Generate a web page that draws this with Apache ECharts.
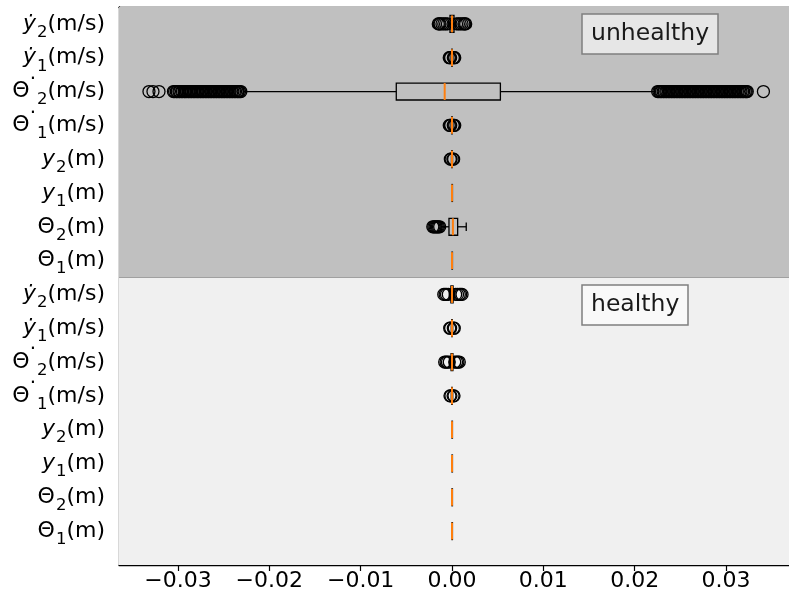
<!DOCTYPE html>
<html>
<head>
<meta charset="utf-8">
<script src="https://cdn.jsdelivr.net/npm/echarts@6/dist/echarts.min.js"></script>
<style>html,body{margin:0;padding:0;background:#fff}#c{width:789px;height:600px}</style>
</head>
<body>
<div id="c"></div>
<script>
// ---- data (rows listed bottom -> top within each group) ----
const groups = ['healthy', 'unhealthy'];
const rowSymbols = ['Θ', 'Θ', 'y', 'y', 'Θ', 'Θ', '\u1E8F', '\u1E8F'];
const rowDotted = [false, false, false, false, true, true, false, false];
const rowSubs = ['1', '2', '1', '2', '1', '2', '1', '2'];
const rowUnits = ['(m)', '(m)', '(m)', '(m)', '(m/s)', '(m/s)', '(m/s)', '(m/s)'];
const xTicks = [-0.03, -0.02, -0.01, 0.00, 0.01, 0.02, 0.03];

// [low whisker, Q1, median, Q3, high whisker]
const healthyBoxes = [
  [-0.00001, -0.000005, 0, 0.000005, 0.00001],
  [-0.00001, -0.000005, 0, 0.000005, 0.00001],
  [-0.00001, -0.000005, 0, 0.000005, 0.00001],
  [-0.00001, -0.000005, 0, 0.000005, 0.00001],
  [-0.00008, -0.00003, 0, 0.00003, 0.00008],
  [-0.00025, -0.0001, 0, 0.0001, 0.00025],
  [-0.00008, -0.00003, 0, 0.00003, 0.00008],
  [-0.0003, -0.00012, 0, 0.00012, 0.0003]
];
const unhealthyBoxes = [
  [-0.00001, -0.000005, 0, 0.000005, 0.00001],
  [-0.0012, -0.00033, 0.0001, 0.00062, 0.00156],
  [-0.00001, -0.000005, 0, 0.000005, 0.00001],
  [-0.00006, -0.00003, 0, 0.00003, 0.00006],
  [-0.0001, -0.00004, 0, 0.00004, 0.0001],
  [-0.0228, -0.0061, -0.0008, 0.0053, 0.0222],
  [-0.0001, -0.00004, 0, 0.00004, 0.0001],
  [-0.0004, -0.00022, 0, 0.00022, 0.0004]
];

const healthyOutliers = [
  [], [], [], [],
  [-0.00022, -0.00012, 0.00012, 0.00022],
  [-0.0008, -0.00065, -0.0005, -0.0003, 0.0003, 0.0005, 0.00065, 0.0008],
  [-0.00025, -0.00015, 0.00015, 0.00025],
  [-0.0009, -0.00075, -0.0006, -0.0004, 0.0004, 0.0006, 0.0008, 0.00095, 0.0011]
];
const unhealthyOutliers = [
  [],
  [-0.0021, -0.00198, -0.00185, -0.00172, -0.0016, -0.00148, -0.00135],
  [],
  [-0.00018, -0.0001, 0.0001, 0.00018],
  [-0.0003, -0.0002, -0.00014, 0.00014, 0.0002, 0.0003],
  [-0.03318, -0.03274, -0.03208,
   -0.03050, -0.03037, -0.03019, -0.03008, -0.02990, -0.02979, -0.02961, -0.02950, -0.02932, -0.02921,
   -0.02906, -0.02889, -0.02877, -0.02860, -0.02848, -0.02831, -0.02819, -0.02803, -0.02788, -0.02776,
   -0.02759, -0.02747, -0.02730, -0.02718, -0.02701, -0.02689, -0.02672, -0.02660, -0.02643, -0.02631,
   -0.02614, -0.02602, -0.02585, -0.02573, -0.02556, -0.02544, -0.02527, -0.02515, -0.02498, -0.02486,
   -0.02469, -0.02457, -0.02440, -0.02428, -0.02411, -0.02399, -0.02382, -0.02370, -0.02353, -0.02341,
   -0.02326, -0.02312,
   0.02252, 0.02266, 0.02283, 0.02295, 0.02312, 0.02324, 0.02341, 0.02353, 0.02370, 0.02382, 0.02399,
   0.02411, 0.02428, 0.02440, 0.02457, 0.02469, 0.02486, 0.02498, 0.02515, 0.02527, 0.02544, 0.02556,
   0.02573, 0.02585, 0.02602, 0.02614, 0.02631, 0.02643, 0.02660, 0.02672, 0.02689, 0.02701, 0.02718,
   0.02730, 0.02747, 0.02759, 0.02776, 0.02788, 0.02805, 0.02817, 0.02834, 0.02846, 0.02863, 0.02875,
   0.02892, 0.02904, 0.02921, 0.02933, 0.02950, 0.02962, 0.02979, 0.02991, 0.03008, 0.03020, 0.03037,
   0.03049, 0.03066, 0.03078, 0.03095, 0.03107, 0.03124, 0.03136, 0.03153, 0.03165, 0.03182, 0.03194,
   0.03211, 0.03222, 0.03233, 0.03410],
  [-0.0003, -0.00022, -0.00015, 0.00015, 0.00022, 0.0003],
  [-0.0015, -0.0014, -0.0013, -0.0011, -0.0009, -0.0007, -0.0005,
   0.0005, 0.0007, 0.0009, 0.0011, 0.0013, 0.0014, 0.0015]
];

// ---- build ----
const categories = [];
groups.forEach(g => rowSymbols.forEach((s, i) => categories.push(g + '|' + i)));
const boxData = healthyBoxes.concat(unhealthyBoxes).map((b, idx) => b.concat([idx]));
const outlierData = [];
healthyOutliers.concat(unhealthyOutliers).forEach((arr, idx) => arr.forEach(v => outlierData.push([v, idx])));
const medianData = boxData.map(b => [b[2], b[5]]);

const FONT = 'DejaVu Sans';
const XMIN = -0.03646, XMAX = 0.0369;

function yLabel(value, index) {
  const r = index % 8;
  const symStyle = (r === 2 || r === 3 || r === 6 || r === 7) ? 'yi' : 'th';
  return '{' + symStyle + '|' + rowSymbols[r] + '}' + (rowDotted[r] ? '{dt|\u00B7}' : '') +
    '{sub|' + rowSubs[r] + '}{u|' + rowUnits[r] + '}';
}

const chart = echarts.init(document.getElementById('c'), null, {renderer: 'canvas'});
chart.setOption({
  animation: false,
  backgroundColor: '#ffffff',
  title: [
    {text: 'unhealthy', left: 582, top: 14, padding: [5, 9], backgroundColor: '#e6e6e6',
     borderColor: '#7f7f7f', borderWidth: 1.5,
     textStyle: {fontFamily: FONT, fontSize: 23.5, fontWeight: 'normal', color: '#1a1a1a', lineHeight: 30}},
    {text: 'healthy', left: 582, top: 285, padding: [5, 9], backgroundColor: '#f9f9f9',
     borderColor: '#7f7f7f', borderWidth: 1.5,
     textStyle: {fontFamily: FONT, fontSize: 23.5, fontWeight: 'normal', color: '#1a1a1a', lineHeight: 30}}
  ],
  grid: [
    {left: 119, right: 0, top: 7, bottom: 35, containLabel: false},
    {left: 119, right: 0, top: 7, bottom: 52, containLabel: false}
  ],
  xAxis: [
    {gridIndex: 0, type: 'value', min: XMIN, max: XMAX, position: 'bottom',
     axisLine: {show: true, onZero: false, lineStyle: {color: '#000', width: 1.3}},
     axisTick: {show: true, length: 6, lineStyle: {color: '#000', width: 1.2}, customValues: xTicks},
     axisLabel: {show: true, customValues: xTicks, margin: 5, fontFamily: FONT, fontSize: 22, color: '#000',
       formatter: v => (v < -1e-9 ? '\u2212' : '') + Math.abs(v).toFixed(2)},
     splitLine: {show: false}},
    {gridIndex: 0, type: 'value', min: XMIN, max: XMAX, position: 'top',
     axisLine: {show: true, onZero: false, lineStyle: {color: '#000', width: 1.3}},
     axisTick: {show: false}, axisLabel: {show: false}, splitLine: {show: false}},
    {gridIndex: 1, type: 'value', min: XMIN, max: XMAX, show: false, splitLine: {show: false}}
  ],
  yAxis: [
    {gridIndex: 0, type: 'value', min: 0, max: 16.5,
     axisLine: {show: true, onZero: false, lineStyle: {color: '#000', width: 1.3}},
     axisTick: {show: false}, axisLabel: {show: false}, splitLine: {show: false}},
    {gridIndex: 1, type: 'category', data: categories,
     axisLine: {show: false},
     axisTick: {show: true, alignWithLabel: true, interval: 0, length: 6, lineStyle: {color: '#000', width: 1.2}},
     axisLabel: {show: true, interval: 0, hideOverlap: false, margin: 14, formatter: yLabel,
       rich: {
         th: {fontFamily: FONT, fontSize: 22, color: '#000', lineHeight: 44},
         yi: {fontFamily: FONT, fontSize: 22, fontStyle: 'italic', color: '#000', lineHeight: 44},
         dt: {fontFamily: FONT, fontSize: 20, color: '#000', lineHeight: 2, verticalAlign: 'top'},
         sub: {fontFamily: FONT, fontSize: 16.5, color: '#000', verticalAlign: 'bottom',
               padding: [0, 0, 5, 1]},
         u: {fontFamily: FONT, fontSize: 22, color: '#000', lineHeight: 44}
       }},
     splitLine: {show: false}}
  ],
  series: [
    {type: 'line', xAxisIndex: 0, yAxisIndex: 0, data: [], silent: true,
     markArea: {silent: true, data: [
       [{yAxis: 0, itemStyle: {color: '#f0f0f0'}}, {yAxis: 8.5}],
       [{yAxis: 8.5, itemStyle: {color: '#c0c0c0'}}, {yAxis: 16.5}]
     ]},
     markLine: {silent: true, symbol: ['none', 'none'], label: {show: false},
       lineStyle: {color: '#a0a0a0', width: 1.2, type: 'solid'},
       data: [{yAxis: 8.5}]}},
    {type: 'custom', name: 'box', xAxisIndex: 2, yAxisIndex: 1, data: boxData, z: 3, silent: true,
     encode: {x: [0, 1, 2, 3, 4], y: 5},
     renderItem: function (params, api) {
       const yi = api.value(5);
       const band = api.size([0, 1])[1];
       const h = band * 0.5, cap = band * 0.25;
       const lo = api.coord([api.value(0), yi]);
       const q1 = api.coord([api.value(1), yi]);
       const q3 = api.coord([api.value(3), yi]);
       const hi = api.coord([api.value(4), yi]);
       const st = {stroke: '#000', lineWidth: 1.3, fill: null};
       const yc = q1[1];
       return {type: 'group', children: [
         {type: 'line', shape: {x1: lo[0], y1: yc, x2: q1[0], y2: yc}, style: st},
         {type: 'line', shape: {x1: q3[0], y1: yc, x2: hi[0], y2: yc}, style: st},
         {type: 'line', shape: {x1: lo[0], y1: yc - cap / 2, x2: lo[0], y2: yc + cap / 2}, style: st},
         {type: 'line', shape: {x1: hi[0], y1: yc - cap / 2, x2: hi[0], y2: yc + cap / 2}, style: st},
         {type: 'rect', shape: {x: q1[0], y: yc - h / 2, width: Math.max(q3[0] - q1[0], 0.5), height: h},
          style: {stroke: '#000', lineWidth: 1.3, fill: 'rgba(0,0,0,0)'}}
       ]};
     }},
    {type: 'scatter', xAxisIndex: 2, yAxisIndex: 1, data: outlierData, symbol: 'circle', symbolSize: 12, z: 4,
     silent: true,
     itemStyle: {color: 'rgba(0,0,0,0)', borderColor: '#000', borderWidth: 1.3, opacity: 1}},
    {type: 'custom', xAxisIndex: 2, yAxisIndex: 1, data: medianData, z: 5, silent: true,
     encode: {x: 0, y: 1},
     renderItem: function (params, api) {
       const p = api.coord([api.value(0), api.value(1)]);
       const h = api.size([0, 1])[1] * 0.5;
       return {type: 'line', shape: {x1: p[0], y1: p[1] - h / 2, x2: p[0], y2: p[1] + h / 2},
               style: {stroke: '#ff7f0e', lineWidth: 2}};
     }}
  ]
});
</script>
</body>
</html>
